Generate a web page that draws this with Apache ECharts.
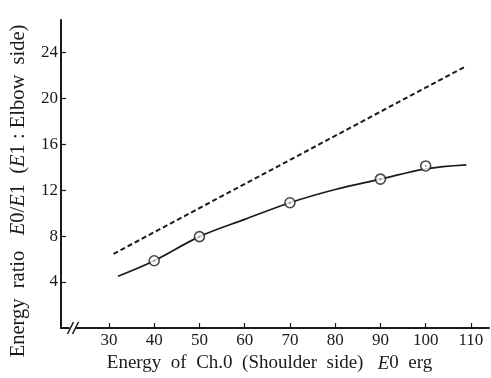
<!DOCTYPE html>
<html>
<head>
<meta charset="utf-8">
<script src="https://cdn.jsdelivr.net/npm/echarts@6/dist/echarts.min.js"></script>
<style>
  html, body { margin: 0; padding: 0; background: #fff; }
  #chart { width: 491px; height: 378px; }
</style>
</head>
<body>
<div id="chart"></div>
<script>
// Measured ratios (open circles)
const measuredE0 = [40, 50, 70, 90, 100];
const measuredRatio = [5.85, 7.95, 10.9, 12.95, 14.1];

// Smooth fitted curve through the measurements
const curveE0 = [32, 40, 50, 60, 70, 80, 90, 100, 109];
const curveRatio = [4.5, 5.85, 7.95, 9.45, 10.9, 12.05, 12.95, 13.85, 14.2];

// Dashed reference line
const dashedE0 = [31, 109];
const dashedRatio = [6.45, 22.8];

// Tick labels
const xTicks = [30, 40, 50, 60, 70, 80, 90, 100, 110];
const yTicks = [4, 8, 12, 16, 20, 24];

const serif = '"Liberation Serif", "DejaVu Serif", serif';
const ink = '#1a1a1a';

const chart = echarts.init(document.getElementById('chart'), null, { renderer: 'canvas' });

const pairs = (xs, ys) => xs.map((x, i) => [x, ys[i]]);

const richFor = (size) => ({
  n: { fontFamily: serif, fontSize: size, color: ink },
  i: { fontFamily: serif, fontSize: size, color: ink, fontStyle: 'italic' }
});

chart.setOption({
  backgroundColor: '#fff',
  animation: false,
  grid: { left: 53, right: 2, top: 20, bottom: 50 },
  xAxis: {
    type: 'value',
    min: 19.4,
    max: 114,
    axisLine: { show: true, lineStyle: { color: ink, width: 2 } },
    axisTick: { show: true, inside: true, length: 5, lineStyle: { color: ink, width: 1.2 }, customValues: xTicks },
    axisLabel: { show: true, margin: 4, color: ink, fontFamily: serif, fontSize: 17, customValues: xTicks },
    splitLine: { show: false },
    name: '{n|Energy  of  Ch.0  (Shoulder  side)   }{i|E}{n|0  erg}',
    nameLocation: 'middle',
    nameGap: 26,
    nameTextStyle: { rich: richFor(19), padding: [0, 11, 0, 0] }
  },
  yAxis: {
    type: 'value',
    min: 0,
    max: 26.8,
    axisLine: { show: true, lineStyle: { color: ink, width: 2 } },
    axisTick: { show: true, inside: true, length: 5, lineStyle: { color: ink, width: 1.2 }, customValues: yTicks },
    axisLabel: { show: true, margin: 3, color: ink, fontFamily: serif, fontSize: 17, customValues: yTicks },
    splitLine: { show: false },
    name: '{n|Energy  ratio   }{i|E}{n|0/}{i|E}{n|1  (}{i|E}{n|1 : Elbow  side)}',
    nameLocation: 'middle',
    nameRotate: 90,
    nameGap: 32,
    nameTextStyle: { rich: richFor(20.5), padding: [0, 34, 0, 0] }
  },
  series: [
    {
      type: 'line',
      data: pairs(dashedE0, dashedRatio),
      showSymbol: false,
      lineStyle: { color: ink, width: 2, type: [5, 3] },
      z: 2
    },
    {
      type: 'line',
      data: pairs(curveE0, curveRatio),
      smooth: 0.35,
      showSymbol: false,
      lineStyle: { color: ink, width: 1.7 },
      z: 2
    },
    {
      type: 'scatter',
      data: pairs(measuredE0, measuredRatio),
      symbol: 'circle',
      symbolSize: 10,
      itemStyle: { color: '#fff', borderColor: ink, borderWidth: 1.6 },
      z: 3
    },
    {
      type: 'scatter',
      data: pairs(measuredE0, measuredRatio),
      symbol: 'circle',
      symbolSize: 2,
      itemStyle: { color: '#777' },
      z: 4
    }
  ]
});

// Axis break mark "//" near the origin of the horizontal axis
function drawBreak() {
  const y0 = chart.convertToPixel({ gridIndex: 0 }, [19.4, 0])[1];
  const xa = chart.convertToPixel({ gridIndex: 0 }, [21.5, 0])[0];
  const mk = (dx) => ({
    type: 'line',
    shape: { x1: xa + dx - 3, y1: y0 + 6, x2: xa + dx + 3, y2: y0 - 6 },
    style: { stroke: ink, lineWidth: 1.5 },
    z: 10
  });
  chart.setOption({
    graphic: [
      { type: 'rect', shape: { x: xa - 1, y: y0 - 1.5, width: 6, height: 3 }, style: { fill: '#fff' }, z: 9 },
      mk(0),
      mk(5)
    ]
  });
}
drawBreak();
</script>
</body>
</html>
